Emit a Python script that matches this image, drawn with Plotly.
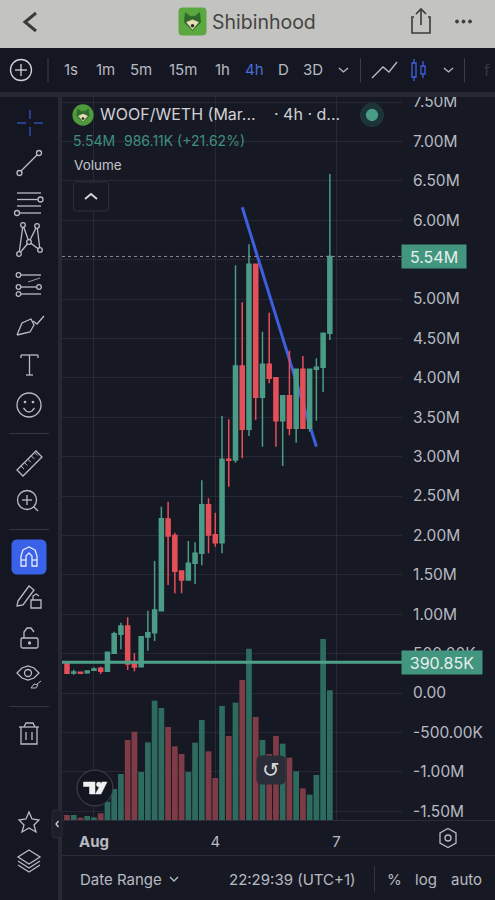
import pandas as pd
import plotly.graph_objects as go

W = 495
H = 900

# candles, in millions, 4h bars
opens = [0.39, 0.253, 0.262, 0.258, 0.288, 0.313, 0.275, 0.504, 0.745, 0.85, 0.377, 0.334, 0.71, 0.765, 1.045, 2.208,
         2.0, 1.548, 1.434, 1.646, 1.773, 2.39, 2.009, 1.907, 2.966, 2.957, 4.15, 3.346, 5.44, 3.752,
         4.171, 4.0, 3.455, 3.773, 3.359, 4.108, 3.359, 4.108, 4.134, 4.565]
highs = [0.39, 0.295, 0.262, 0.29, 0.326, 0.334, 0.516, 0.778, 0.892, 0.96, 0.504, 0.715, 1.045, 1.675, 2.364, 2.428,
         2.034, 1.548, 1.929, 1.912, 2.699, 2.47, 2.288, 3.515, 3.473, 5.427, 4.958, 5.694, 5.44, 4.585,
         4.826, 4.0, 3.773, 4.344, 4.108, 4.277, 4.108, 4.247, 4.565, 6.586]
lows = [0.25, 0.233, 0.25, 0.245, 0.283, 0.241, 0.275, 0.495, 0.555, 0.292, 0.275, 0.325, 0.537, 0.66, 1.045, 1.37,
        1.265, 1.265, 1.434, 1.383, 1.62, 1.773, 1.857, 1.773, 2.618, 2.923, 2.978, 3.261, 3.464, 3.126,
        3.93, 3.126, 2.881, 3.27, 3.176, 3.359, 3.316, 3.455, 3.82, 4.48]
closes = [0.25, 0.266, 0.25, 0.279, 0.305, 0.275, 0.516, 0.753, 0.85, 0.368, 0.33, 0.715, 0.765, 1.053, 2.212, 1.992,
          1.544, 1.434, 1.646, 1.773, 2.39, 2.005, 1.907, 2.966, 2.953, 4.15, 3.346, 5.44, 3.752, 4.171,
          3.994, 3.455, 3.773, 3.359, 4.108, 3.359, 4.108, 4.134, 4.565, 5.54]
volumes = [15, 15, 7, 12, 8, 20, 55, 93, 138, 240, 265, 144, 233, 358, 336, 279,
           221, 198, 144, 232, 300, 206, 126, 342, 252, 352, 420, 514, 309, 240,
           198, 252, 229, 187, 146, 95, 76, 135, 543, 389]

# 5.50M sits fully under the last price tag, so it has no label
price_ticks = [7.5, 7, 6.5, 6, 5.5, 5, 4.5, 4, 3.5, 3, 2.5, 2, 1.5, 1, 0.5, 0, -0.5, -1, -1.5]
price_labels = ["7.50M", "7.00M", "6.50M", "6.00M", "", "5.00M", "4.50M", "4.00M", "3.50M", "3.00M", "2.50M",
                "2.00M", "1.50M", "1.00M", "500.00K", "0.00", "-500.00K", "-1.00M", "-1.50M"]
date_ticks = ["2024-08-01", "2024-08-04", "2024-08-07"]
date_labels = ["<b>Aug</b>", "4", "7"]

last_price = 5.54
volume_line = 0.39085
trend_idx = [26, 37]
trend_vals = [6.164, 3.126]

intervals = ["1s", "1m", "5m", "15m", "1h", "4h", "D", "3D"]
interval_x = [71, 105, 141, 183, 222, 254, 283, 313]

BG = "#161924"
PANEL = "#141722"
GREEN = "#4a9c86"
RED = "#e4505a"
ICON = "#b9bbc2"
TEXT = "#b8bac1"
BLUE = "#3f5fe0"
FONT = "Inter"

dates = pd.date_range("2024-07-31 08:00", periods=len(opens), freq="4h")

# pixel scale of the chart pane
left, right, top, bottom = 62, 402, 96, 820
px_per_bar = 6.74
px_per_m = 78.8
zero_y = 693
x0 = dates[0] + pd.Timedelta(hours=4) * ((left - 67) / px_per_bar)
x1 = dates[0] + pd.Timedelta(hours=4) * ((right - 67) / px_per_bar)
price_range = [(zero_y - bottom) / px_per_m, (zero_y - top) / px_per_m]

vol_colors = ["#2d6b5f" if c >= o else "#7f3b46" for o, c in zip(opens, closes)]

fig = go.Figure()
fig.add_trace(go.Bar(x=dates, y=volumes, marker_color=vol_colors, marker_line_width=0, yaxis="y", hoverinfo="skip"))
# on its own axis so it sits under the candles
fig.add_trace(go.Scatter(x=[dates[i] for i in trend_idx], y=trend_vals, mode="lines", yaxis="y2",
                         line=dict(color=BLUE, width=3), hoverinfo="skip"))
fig.add_trace(go.Candlestick(x=dates, open=opens, high=highs, low=lows, close=closes, yaxis="y3",
                             increasing=dict(line=dict(color=GREEN, width=1.5), fillcolor=GREEN),
                             decreasing=dict(line=dict(color=RED, width=1.5), fillcolor=RED),
                             whiskerwidth=0))

shapes = []
notes = []


def xp(x):
    return x / W


def yp(y):
    return 1 - y / H


def poly(points, close=False):
    d = "M " + " L ".join(f"{xp(x):.5f} {yp(y):.5f}" for x, y in points)
    return d + (" Z" if close else "")


def stroke(points, color=ICON, width=1.3, close=False, fill=None):
    shapes.append(dict(type="path", xref="paper", yref="paper", path=poly(points, close),
                       line=dict(color=color, width=width), fillcolor=fill))


def rect(x0, y0, x1, y1, fill, line=None, width=1, r=0):
    if r:
        d = (f"M {xp(x0 + r):.5f} {yp(y0):.5f} L {xp(x1 - r):.5f} {yp(y0):.5f} "
             f"Q {xp(x1):.5f} {yp(y0):.5f} {xp(x1):.5f} {yp(y0 + r):.5f} L {xp(x1):.5f} {yp(y1 - r):.5f} "
             f"Q {xp(x1):.5f} {yp(y1):.5f} {xp(x1 - r):.5f} {yp(y1):.5f} L {xp(x0 + r):.5f} {yp(y1):.5f} "
             f"Q {xp(x0):.5f} {yp(y1):.5f} {xp(x0):.5f} {yp(y1 - r):.5f} L {xp(x0):.5f} {yp(y0 + r):.5f} "
             f"Q {xp(x0):.5f} {yp(y0):.5f} {xp(x0 + r):.5f} {yp(y0):.5f} Z")
        shapes.append(dict(type="path", xref="paper", yref="paper", path=d, fillcolor=fill,
                           line=dict(color=line or fill, width=width)))
    else:
        shapes.append(dict(type="rect", xref="paper", yref="paper", x0=xp(x0), x1=xp(x1), y0=yp(y0), y1=yp(y1),
                           fillcolor=fill, line=dict(color=line or fill, width=width if line else 0)))


def circle(cx, cy, r, line=ICON, width=1.3, fill=None):
    shapes.append(dict(type="circle", xref="paper", yref="paper", x0=xp(cx - r), x1=xp(cx + r),
                       y0=yp(cy + r), y1=yp(cy - r), fillcolor=fill, line=dict(color=line, width=width)))


def text(x, y, s, size=15, color=TEXT, anchor="left", font=FONT):
    notes.append(dict(x=xp(x), y=yp(y), xref="paper", yref="paper", text=s, showarrow=False, xanchor=anchor,
                      yanchor="middle", borderpad=0, font=dict(size=size, color=color, family=font)))


def dog(cx, cy, s):
    # little shiba face for the token logo
    stroke([(cx - 6 * s, cy - 7 * s), (cx - 2 * s, cy - 4 * s), (cx + 2 * s, cy - 4 * s), (cx + 6 * s, cy - 7 * s),
            (cx + 7 * s, cy + 1 * s), (cx, cy + 8 * s), (cx - 7 * s, cy + 1 * s)],
           color="#2f6a2c", width=0.5, close=True, fill="#2f6a2c")
    stroke([(cx - 5 * s, cy + 1 * s), (cx, cy - 1 * s), (cx + 5 * s, cy + 1 * s), (cx, cy + 7 * s)],
           color="#e9dfb4", width=0.5, close=True, fill="#e9dfb4")
    circle(cx, cy + 4 * s, 1.2 * s, line="#222", width=0.5, fill="#222")


# header and panels
rect(0, 0, W, 48, "#c3c3c0")
rect(0, 48, W, 92, PANEL)
rect(0, 92, W, 97, "#262933")
rect(0, 97, 58, H, PANEL)
rect(58, 97, 62, H, "#262933")
rect(62, 820, W, 821, "#2a2d37")
rect(62, 855, W, 856, "#2a2d37")

stroke([(36, 13), (25, 22), (36, 31)], color="#3a3a3a", width=3)
rect(179, 8, 206, 35, "#5aa83f", r=3)
dog(192.5, 21, 1.2)
text(211, 22, "Shibinhood", size=19.5, color="#444444")
stroke([(414, 17), (412, 17), (412, 33), (430, 33), (430, 17), (428, 17)], color="#3a3a3a", width=1.6)
stroke([(421, 25), (421, 9)], color="#3a3a3a", width=1.6)
stroke([(416, 14), (421, 9), (426, 14)], color="#3a3a3a", width=1.6)
for cx in (457, 463.5, 470):
    circle(cx, 21.5, 1.5, line="#3a3a3a", width=1, fill="#3a3a3a")

# interval toolbar
circle(21, 70, 10.5, line="#d0d1d5")
stroke([(21, 64), (21, 76)], color="#d0d1d5")
stroke([(15, 70), (27, 70)], color="#d0d1d5")
rect(47.5, 58, 48.5, 82, "#3a3d47")
for lab, lx in zip(intervals, interval_x):
    text(lx, 70, lab, size=15, color="#4a6bd8" if lab == "4h" else TEXT, anchor="center")
stroke([(339, 68), (343.5, 72), (348, 68)])
rect(360, 58, 361, 82, "#3a3d47")
stroke([(372, 78), (383, 67), (389, 72), (397, 62)])
stroke([(414, 59), (414, 81)], color=BLUE)
stroke([(423, 61), (423, 78)], color=BLUE)
rect(412, 63, 416, 77, PANEL, line=BLUE, width=1.3)
rect(421, 66, 425, 74, PANEL, line=BLUE, width=1.3)
stroke([(444, 68), (448.5, 72), (453, 68)])
rect(464, 58, 465, 82, "#3a3d47")
text(487, 70, "f", size=16, color="#33363f", anchor="center")

# legend
circle(83, 115, 10, line="#4f9a3c", fill="#4f9a3c")
dog(83, 115, 0.9)
text(99, 114, "WOOF/WETH (Mar...", size=16, color="#d0d1d5")
text(273, 114, "· 4h · d...", size=16, color="#d0d1d5")
circle(372, 115, 11.5, line="#1d3436", fill="#1d3436")
circle(372, 115, 5.5, line=GREEN, fill=GREEN)
text(72, 140, "5.54M", size=14, color="#3f8f7e")
text(123, 140, "986.11K (+21.62%)", size=14, color="#3f8f7e")
text(73, 165, "Volume", size=13.5, color="#c4c5ca")
rect(73.5, 182, 108.5, 211, BG, line="#2e313b", r=3)
stroke([(85, 199), (91, 194), (97, 199)], color="#d6d7db", width=1.8)

# drawing tools
ac = "#2f4aa8"
stroke([(30, 110), (30, 119)], color=ac, width=1.6)
stroke([(30, 127), (30, 136)], color=ac, width=1.6)
stroke([(17, 123), (26, 123)], color=ac, width=1.6)
stroke([(34, 123), (43, 123)], color=ac, width=1.6)
stroke([(21, 171), (37, 155)])
circle(19.5, 173, 2.5)
circle(39, 153, 2.5)
stroke([(17, 193), (41, 193)])
stroke([(17, 199.5), (38, 199.5)])
stroke([(17, 206), (41, 206)])
stroke([(20, 213), (41, 213)])
circle(40.5, 199.5, 2.5)
circle(17, 213, 2.5)
stroke([(19, 254), (23, 225), (29, 242), (37, 226), (40, 250), (29, 242), (19, 254)])
for cx, cy in [(19, 254), (23, 225), (29, 242), (37, 226), (40, 250)]:
    circle(cx, cy, 2.3, fill=PANEL)
stroke([(21, 275), (41, 275)])
stroke([(21, 287), (36, 287)])
stroke([(21, 294), (41, 294)])
stroke([(28, 282), (40, 278)], width=0.8)
for cx, cy in [(18.5, 275), (18.5, 287), (39, 287), (18.5, 294)]:
    circle(cx, cy, 2.3)
stroke([(17, 335), (22, 323), (31, 319), (34, 325), (30, 332), (17, 335)])
stroke([(33, 321), (37, 324), (44, 316)])
stroke([(21, 355), (21, 358)])
stroke([(21, 355), (38, 355)])
stroke([(38, 355), (38, 358)])
stroke([(29.5, 355), (29.5, 375)])
stroke([(26, 375), (33, 375)])
circle(29, 405, 12)
circle(25, 402, 0.7, fill=ICON)
circle(33, 402, 0.7, fill=ICON)
stroke([(23.5, 408), (26, 411), (29, 412), (32, 411), (34.5, 408)])
rect(9, 433, 49, 434, "#33363f")
stroke([(17, 470), (36, 451), (42, 457), (23, 476)], close=True)
for k in range(5):
    stroke([(21 + 3.4 * k, 466 - 3.4 * k), (24 + 3.4 * k, 469 - 3.4 * k)], width=1)
circle(27, 500, 9.5)
stroke([(34, 507), (38, 511)])
stroke([(27, 495), (27, 505)])
stroke([(22, 500), (32, 500)])
rect(9, 529, 49, 530, "#33363f")
rect(12, 540, 46, 574, "#3a62e8", r=5)
stroke([(21, 566), (21, 556), (23, 550), (29, 547), (35, 550), (37, 556), (37, 566), (32, 566), (32, 556),
        (29, 553), (26, 556), (26, 566)], color="#e6ebfb", close=True)
stroke([(21, 560), (26, 560)], color="#e6ebfb")
stroke([(32, 560), (37, 560)], color="#e6ebfb")
stroke([(18, 601), (29, 586), (34, 590), (23, 605), (17, 606)], close=True)
rect(31, 600, 41, 608, PANEL, line=ICON, width=1.3)
stroke([(33, 600), (33, 596), (36, 594), (39, 596)])
rect(21, 638, 38, 648, PANEL, line=ICON, width=1.3, r=1.5)
stroke([(24, 638), (24, 632), (27, 628), (31, 628), (34, 632)])
circle(29.5, 643, 1, fill=ICON)
stroke([(17, 673), (22, 668), (28, 666), (34, 668), (39, 673), (34, 678), (28, 680), (22, 678)], close=True)
circle(28, 673, 3.5)
stroke([(31, 688), (34, 684), (38, 685), (36, 688), (31, 688)], width=1)
stroke([(37, 684), (41, 681)], width=1)
rect(9, 706, 49, 707, "#33363f")
stroke([(19, 727), (39, 727)])
stroke([(24, 727), (26, 723), (33, 723), (35, 727)])
stroke([(21, 727), (21, 744), (37, 744), (37, 727)])
stroke([(26, 732), (26, 740)])
stroke([(32, 732), (32, 740)])
stroke([(29, 812), (32, 819), (39, 820), (34, 825), (36, 832), (29, 828), (22, 832), (24, 825), (19, 820),
        (26, 819)], close=True)
stroke([(29, 850), (40, 857), (29, 864), (18, 857)], close=True)
stroke([(18, 861), (29, 868), (40, 861)])
stroke([(18, 865), (29, 872), (40, 865)])
rect(52, 810, 62, 838, "#1c1f29", line="#2a2d37", r=3)
stroke([(58.5, 821), (56, 824), (58.5, 827)], color="#d0d1d5")

# logo and reset button on the pane
circle(95, 788, 18, line="#454852", width=1, fill="#131621")
stroke([(83.5, 782), (95, 782), (95, 794), (89.5, 794), (89.5, 786.5), (83.5, 786.5)],
       color="#f0f0f0", width=0.5, close=True, fill="#f0f0f0")
circle(98.8, 784.5, 2.4, line="#f0f0f0", width=0.5, fill="#f0f0f0")
stroke([(102, 782), (107, 782), (101, 794), (95.5, 794)], color="#f0f0f0", width=0.5, close=True, fill="#f0f0f0")
rect(257, 756, 285, 784, "#2a2d38", r=4)
text(271, 770, "↺", size=21, color="#d6d7db", anchor="center", font="DejaVu Sans")

# bottom bar
hexa = [(448, 828.5), (456, 833), (456, 843), (448, 847.5), (440, 843), (440, 833)]
stroke(hexa, close=True)
circle(448, 838, 3)
text(79, 879, "Date Range", size=15)
stroke([(170, 877), (174, 881), (178, 877)])
text(228, 879, "22:29:39 (UTC+1)", size=15)
rect(374, 866, 375, 892, "#33363f")
text(394, 879, "%", size=15, anchor="center")
text(426, 879, "log", size=15, anchor="center")
text(466, 879, "auto", size=15, anchor="center")

# price lines and their tags
shapes.append(dict(type="line", xref="x domain", yref="y3", x0=0, x1=1, y0=last_price, y1=last_price,
                   line=dict(color="#8b8d92", width=1, dash="dot")))
shapes.append(dict(type="line", xref="x domain", yref="y3", x0=0, x1=1, y0=volume_line, y1=volume_line,
                   line=dict(color="#4fa08a", width=3)))
for val, lab, wid in [(last_price, "5.54M", 64), (volume_line, "390.85K", 80)]:
    notes.append(dict(x=xp(401), xref="paper", xanchor="left", y=val, yref="y3", yanchor="middle", text=lab,
                      showarrow=False, width=wid, height=23, bgcolor="#429680", align="center", borderpad=0,
                      font=dict(size=16, color="#e8f0ec", family=FONT)))

grid = "rgba(255,255,255,0.07)"
domain = [yp(bottom), yp(top)]
fig.update_layout(
    width=W, height=H, margin=dict(l=0, r=0, t=0, b=0, pad=0, autoexpand=False),
    paper_bgcolor=BG, plot_bgcolor=BG, showlegend=False, bargap=0.15, boxgap=0.15,
    font=dict(family=FONT, color=TEXT),
    shapes=shapes, annotations=notes,
    xaxis=dict(type="date", domain=[xp(left), xp(right)], range=[x0, x1], rangeslider=dict(visible=False),
               tickvals=date_ticks, ticktext=date_labels, showgrid=True, gridcolor=grid, gridwidth=1,
               ticks="outside", ticklen=8, tickcolor="rgba(0,0,0,0)", tickfont=dict(size=15, color=TEXT),
               showline=False, zeroline=False),
    yaxis=dict(domain=domain, range=[0, 2172], visible=False),
    yaxis2=dict(domain=domain, range=price_range, overlaying="y", visible=False),
    yaxis3=dict(domain=domain, range=price_range, overlaying="y", side="right", tickvals=price_ticks,
                ticktext=price_labels, showgrid=True, gridcolor=grid, gridwidth=1, zeroline=False,
                ticks="outside", ticklen=7, tickcolor="rgba(0,0,0,0)", tickfont=dict(size=15.5, color=TEXT)),
)

fig.write_html("out.html", config=dict(displayModeBar=False),
               post_script="document.body.style.margin='0';document.body.style.overflow='hidden';")
